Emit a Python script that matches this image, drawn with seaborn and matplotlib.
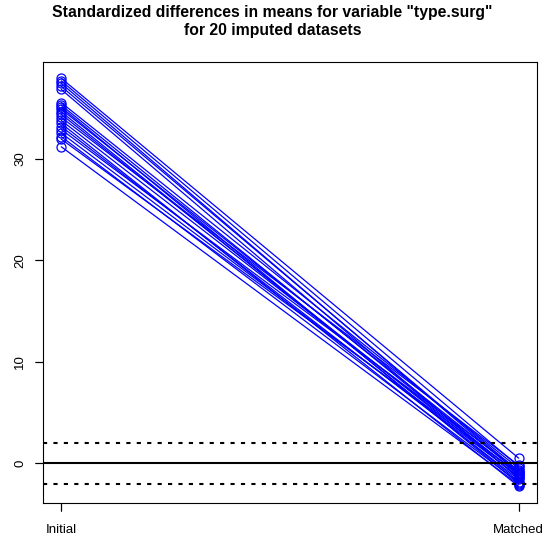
import numpy as np
import pandas as pd
import matplotlib
matplotlib.use("Agg")
import matplotlib.pyplot as plt
import seaborn as sns

stages = ["Initial", "Matched"]
stage_pos = [1, 2]
initial = [37.95, 37.7, 37.45, 37.15, 36.85, 35.55, 35.3, 35.1, 34.9, 34.65,
           34.4, 34.1, 33.8, 33.5, 33.2, 32.9, 32.55, 32.2, 31.95, 31.2]
matched = [0.5, -0.3, -1.0, -0.8, -1.5, -0.5, -1.2, -2.0, -0.9, -1.8,
           -1.4, -0.2, -1.1, -2.28, -1.6, -0.7, -1.3, -1.9, -1.0, -2.1]
y_ticks = [0, 10, 20, 30]
ref_lines = [0, 2, -2]

rows = []
for i, (a, b) in enumerate(zip(initial, matched)):
    rows.append({"dataset": i, "pos": stage_pos[0], "value": a})
    rows.append({"dataset": i, "pos": stage_pos[1], "value": b})
df = pd.DataFrame(rows)

sns.set_style("ticks", {"axes.edgecolor": "black", "xtick.color": "black",
                        "ytick.color": "black", "text.color": "black",
                        "axes.labelcolor": "black"})
plt.rcParams['font.family'] = ['Liberation Sans', 'DejaVu Sans']

fig, ax = plt.subplots(figsize=(5.45, 5.38), dpi=100)
fig.subplots_adjust(left=43/545, right=537/545, bottom=1 - 502.7/538, top=1 - 62/538)

sns.lineplot(data=df, x="pos", y="value", units="dataset", estimator=None,
             color="blue", lw=0.9, marker="o", markersize=6.5,
             markerfacecolor="none", markeredgecolor="blue", markeredgewidth=0.9,
             ax=ax, legend=False)

ax.axhline(ref_lines[0], color="black", lw=1.5)
ax.axhline(ref_lines[1], color="black", lw=1.5, ls=(0, (2, 3)))
ax.axhline(ref_lines[2], color="black", lw=1.5, ls=(0, (2, 3)))

ymin = min(matched); ymax = max(initial)
r = ymax - ymin
ax.set_ylim(ymin - 0.04*r, ymax + 0.04*r)
ax.set_xlim(0.96, 2.04)
ax.set_xticks(stage_pos)
ax.set_xticklabels(stages)
ax.set_yticks(y_ticks)
ax.set_yticklabels([str(v) for v in y_ticks], rotation=90, va="center")
ax.set_xlabel("")
ax.set_ylabel("")
ax.tick_params(axis="both", length=6, width=0.8, labelsize=9.5,
               color="black", labelcolor="black")
ax.tick_params(axis="x", pad=9)
ax.tick_params(axis="y", pad=6)
for s in ax.spines.values():
    s.set_color("black")
    s.set_linewidth(0.8)

# explicit tick marks (axis decoration) at the tick positions
xt = ax.get_xaxis_transform()
yt = ax.get_yaxis_transform()
for p in stage_pos:
    ax.plot([p, p], [0, -0.019], transform=xt, color="black", lw=0.8,
            clip_on=False, solid_capstyle="butt")
for v in y_ticks:
    ax.plot([0, -0.017], [v, v], transform=yt, color="black", lw=0.8,
            clip_on=False, solid_capstyle="butt")

fig.text(0.5, 1 - 13/538, 'Standardized differences in means for variable "type.surg"',
         ha="center", va="center", fontsize=11.3, fontweight="bold", color="black")
fig.text(0.5, 1 - 31/538, 'for 20 imputed datasets',
         ha="center", va="center", fontsize=11.3, fontweight="bold", color="black")

fig.savefig("out.png", dpi=100)
